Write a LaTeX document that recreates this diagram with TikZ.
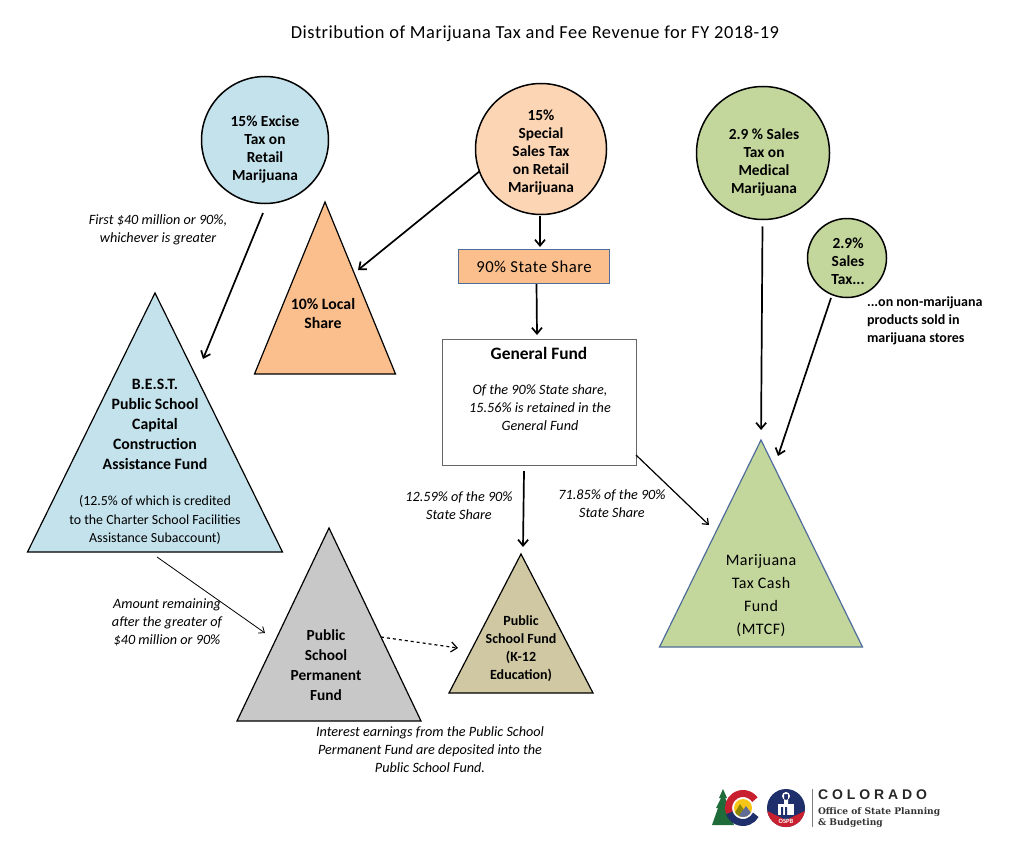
\documentclass[tikz,border=0pt]{standalone}
\usepackage{fontspec}
\setmainfont{Carlito}
\newfontfamily\widefont[LetterSpace=3]{Carlito}
\newfontfamily\logofont[LetterSpace=28]{Liberation Sans}
\newfontfamily\slabfont{DejaVu Serif}
\usetikzlibrary{shapes.geometric,calc,arrows.meta}
\definecolor{skyfill}{HTML}{C4E2EC}
\definecolor{peachfill}{HTML}{FCD5B5}
\definecolor{orangefill}{HTML}{FBBF8E}
\definecolor{greenfill}{HTML}{C3D69B}
\definecolor{tanfill}{HTML}{CFC8A2}
\definecolor{grayfill}{HTML}{C8C8C8}
\definecolor{edgeblue}{HTML}{4F6D9A}
\definecolor{logored}{HTML}{C8202F}
\definecolor{logoblue}{HTML}{1F2F6B}
\definecolor{logogreen}{HTML}{1F6B3A}
\definecolor{logoyellow}{HTML}{F5C518}

\begin{document}
\begin{tikzpicture}
[x=1pt,y=-1pt,every node/.style={inner sep=0pt,outer sep=0pt},round/.style={circle,draw=black,line width=1.5pt},tri/.style={isosceles triangle,isosceles triangle stretches,shape border rotate=90,anchor=apex,draw=black,line width=1.2pt},box/.style={rectangle,anchor=north west},flow/.style={-{Straight Barb[length=6pt,width=10pt]},line width=1.7pt,black},thin flow/.style={-{Straight Barb[length=5pt,width=8pt]},line width=.8pt,black},boldtxt/.style={align=center,font=\fontsize{15.4}{18}\selectfont\bfseries},note/.style={align=center,font=\fontsize{14.2}{18}\selectfont\itshape}]
\useasboundingbox (0,0) rectangle (1024,856);

\node[font=\widefont\fontsize{18.4}{20}\selectfont] (title) at (535,34) {Distribution of Marijuana Tax and Fee Revenue for FY 2018-19};

\node[round,fill=skyfill,minimum size=127pt] (excise) at (265,140) {};
\node[round,fill=peachfill,minimum size=131pt] (special) at (541,149) {};
\node[round,fill=greenfill,minimum size=133pt] (medical) at (763,153) {};
\node[round,fill=greenfill,minimum size=79pt] (nonmj) at (847,258) {};
\node[boldtxt] (excisetext) at (265,149) {15\% Excise\\Tax on\\Retail\\Marijuana};
\node[boldtxt] (specialtext) at (541,152) {15\%\\Special\\Sales Tax\\on Retail\\Marijuana};
\node[boldtxt] (medicaltext) at (764,162) {2.9 \% Sales\\Tax on\\Medical\\Marijuana};
\node[boldtxt] (nonmjtext) at (848,261) {2.9\%\\Sales\\Tax...};

\node[tri,fill=skyfill,minimum width=255pt,minimum height=259pt] (best) at (155,293) {};
\node[tri,fill=orangefill,minimum width=141pt,minimum height=172pt] (local) at (325,202) {};
\node[tri,fill=grayfill,minimum width=184pt,minimum height=193pt] (permanent) at (329,528) {};
\node[tri,fill=tanfill,minimum width=144pt,minimum height=139pt] (school) at (521,554) {};
\node[tri,fill=greenfill,draw=edgeblue,minimum width=203pt,minimum height=207pt] (mtcf) at (761,440) {};

\node[box,fill=orangefill,draw=edgeblue,line width=1pt,minimum width=151pt,minimum height=34pt] (state) at (458,249) {};
\node[box,fill=white,draw=black!60,line width=.8pt,minimum width=194pt,minimum height=126pt] (general) at (442,339) {};
\node[font=\widefont\fontsize{16.7}{18}\selectfont] (statetext) at (534,267) {90\% State Share};
\node[font=\fontsize{17.4}{18}\selectfont\bfseries] (generaltext) at (539,353) {General Fund};
\node[note] (generalnote) at (540,408) {Of the 90\% State share,\\15.56\% is retained in the\\General Fund};

\node[align=center,font=\fontsize{15.8}{20}\selectfont\bfseries] (besttext) at (155,424) {B.E.S.T.\\Public School\\Capital\\Construction\\Assistance Fund};
\node[align=center,font=\fontsize{13.9}{18.5}\selectfont] (bestnote) at (155,520) {(12.5\% of which is credited\\to the Charter School Facilities\\Assistance Subaccount)};
\node[align=center,font=\fontsize{15.8}{19}\selectfont\bfseries] (localtext) at (323,314) {10\% Local\\Share};
\node[align=center,font=\fontsize{15.4}{20}\selectfont\bfseries] (permanenttext) at (326,665) {Public\\School\\Permanent\\Fund};
\node[align=center,font=\fontsize{14}{18}\selectfont\bfseries] (schooltext) at (521,649) {Public\\School Fund\\(K-12\\Education)};
\node[align=center,font=\widefont\fontsize{16}{23}\selectfont] (mtcftext) at (761,596) {Marijuana\\Tax Cash\\Fund\\(MTCF)};

\node[note] (firstnote) at (158,230) {First \$40 million or 90\%,\\whichever is greater};
\node[align=left,anchor=west,font=\fontsize{14}{18}\selectfont\bfseries] (storesnote) at (867,321) {...on non-marijuana\\products sold in\\marijuana stores};
\node[note] (leftnote) at (459,506) {12.59\% of the 90\%\\State Share};
\node[note] (rightnote) at (612,504) {71.85\% of the 90\%\\State Share};
\node[note] (amountnote) at (167,622) {Amount remaining\\after the greater of\\\$40 million or 90\%};
\node[note] (interestnote) at (430,750) {Interest earnings from the Public School\\Permanent Fund are deposited into the\\Public School Fund.};

\coordinate (excisefoot) at (263,213);
\coordinate (bestin) at (203,359);
\coordinate (localin) at (358,270);
\coordinate (nonmjfoot) at (831,298);
\coordinate (mtcfside) at (778,456);
\coordinate (mtcfleft) at (709,525);
\coordinate (permin) at (265,633);
\coordinate (permout) at (381,637);
\coordinate (schoolin) at (458,648);
\coordinate (generalout) at (524,471);

\draw[flow] (excisefoot) -- (bestin);
\draw[flow] (special.-160) -- (localin);
\draw[flow] ($(special.south)+(-1,1)$) -- ($(state.north)+(6.5,-2)$);
\draw[flow] ($(state.south)+(3,1)$) -- ($(general.north)+(-2,-4)$);
\draw[flow,shorten <=7pt,shorten >=10pt] (medical) -- (mtcf.apex);
\draw[flow] (nonmjfoot) -- (mtcfside);
\draw[flow] (generalout) -- ($(school.apex)+(2,-7)$);
\draw[thin flow,line width=1.2pt] ($(general.south east)+(0,-10)$) -- (mtcfleft);
\draw[thin flow] ($(best.left corner)!.5!(best.right corner)+(2,5)$) -- (permin);
\draw[flow,line width=1.2pt,dashed] (permout) -- (schoolin);

\fill[logogreen] (723,789) -- (727,798) -- (725,798) -- (730,808) -- (728,808) -- (734,825) -- (712,825) -- (718,808) -- (716,808) -- (721,798) -- (719,798) -- cycle;
\draw[logored,line width=7pt] (743,808) ++(-35:14.5) arc (-35:-200:14.5);
\draw[logoblue,line width=7pt] (743,808) ++(-200:14.5) arc (-200:-332:14.5);
\begin{scope}
\clip (743,808) circle (9);
\fill[logoyellow] (734,799) rectangle (752,817);
\fill[olive] (733,816) -- (740,804) -- (748,816) -- cycle;
\fill[logoblue!70!white] (738,817) -- (746,806) -- (754,817) -- cycle;
\end{scope}
\fill[logoblue] (786,808) circle (19);
\fill[logored] (767.2,811) -- (786,820) -- (804.8,811) arc (9:171:19) -- cycle;
\fill[white] (778,804) rectangle (794,815);
\fill[white] (786,796) circle (4) (784,794) rectangle (788,804);
\fill[logoblue] (781,807) rectangle (783,815) (785,807) rectangle (787,815);
\node[font=\fontsize{6.5}{7}\selectfont\bfseries,text=white] (ospb) at (786,821.5) {OSPB};
\draw[black!50,line width=.7pt] (812,789) -- (812,827);
\node[anchor=west,font=\logofont\fontsize{14}{14}\selectfont\bfseries,text=black!85] (colorado) at (818,794.5) {COLORADO};
\node[align=left,anchor=north west,font=\slabfont\fontsize{9.1}{11}\selectfont\bfseries,text=black!80] (ospbname) at (818,808) {Office of State Planning\\\& Budgeting};
\end{tikzpicture}
\end{document}
